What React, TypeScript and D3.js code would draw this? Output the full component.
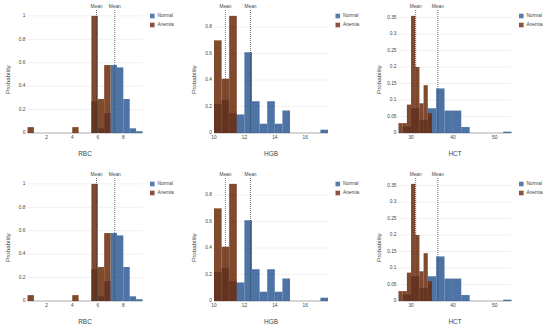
import React from 'react';
import * as d3 from 'd3';

// histogram bins: left edge of every bin + probability density
const rbcBinSize = 0.5;
const rbcNormalStarts = [5.5, 6.0, 6.5, 7.0, 7.5, 8.0, 8.5, 9.0];
const rbcNormalValues = [0.27, 0.04, 0.17, 0.58, 0.56, 0.29, 0.04, 0.015];
const rbcAnemiaStarts = [0.5, 4.0, 5.5, 6.0, 6.5];
const rbcAnemiaValues = [0.05, 0.05, 1.0, 0.29, 0.58];
const rbcMeans = [5.9, 7.33];
const rbcXTicks = [2, 4, 6, 8];
const rbcYTicks = [0, 0.2, 0.4, 0.6, 0.8, 1];

const hgbBinSize = 0.5;
const hgbNormalStarts = [10, 10.5, 11, 11.5, 12, 12.5, 13, 13.5, 14, 14.5, 17];
const hgbNormalValues = [0.22, 0.25, 0.15, 0.14, 0.61, 0.24, 0.07, 0.24, 0.07, 0.17, 0.025];
const hgbAnemiaStarts = [10, 10.5, 11];
const hgbAnemiaValues = [0.7, 0.41, 0.885];
const hgbMeans = [10.75, 12.4];
const hgbXTicks = [10, 12, 14, 16];
const hgbYTicks = [0, 0.2, 0.4, 0.6, 0.8];

const hctNormalBinSize = 2;
const hctAnemiaBinSize = 1;
const hctNormalStarts = [28, 30, 32, 34, 36, 38, 40, 42, 52];
const hctNormalValues = [0.02, 0.075, 0.04, 0.075, 0.135, 0.068, 0.068, 0.018, 0.004];
const hctAnemiaStarts = [27, 28, 29, 30, 31, 32, 33, 34];
const hctAnemiaValues = [0.03, 0.03, 0.086, 0.355, 0.2, 0.09, 0.145, 0.06];
const hctMeans = [31.1, 36.4];
const hctXTicks = [30, 40, 50];
const hctYTicks = [0, 0.05, 0.1, 0.15, 0.2, 0.25, 0.3, 0.35];

const seriesNames = ['Normal', 'Anemia'];

const panels = [
  {
    title: 'RBC', xDomain: [0.5, 9.5], xTicks: rbcXTicks, yTicks: rbcYTicks, means: rbcMeans,
    normal: { starts: rbcNormalStarts, values: rbcNormalValues, size: rbcBinSize },
    anemia: { starts: rbcAnemiaStarts, values: rbcAnemiaValues, size: rbcBinSize },
  },
  {
    title: 'HGB', xDomain: [10, 17.5], xTicks: hgbXTicks, yTicks: hgbYTicks, means: hgbMeans,
    normal: { starts: hgbNormalStarts, values: hgbNormalValues, size: hgbBinSize },
    anemia: { starts: hgbAnemiaStarts, values: hgbAnemiaValues, size: hgbBinSize },
  },
  {
    title: 'HCT', xDomain: [27, 54], xTicks: hctXTicks, yTicks: hctYTicks, means: hctMeans,
    normal: { starts: hctNormalStarts, values: hctNormalValues, size: hctNormalBinSize },
    anemia: { starts: hctAnemiaStarts, values: hctAnemiaValues, size: hctAnemiaBinSize },
  },
];

// layout (pixels)
const W = 550;
const H = 330;
const plotX = [[27.5, 142.5], [214, 328], [398.5, 511.5]];
const rowOffsets = [0, 168];
const plotTop = 10;
const plotBottom = 133;

const NORMAL = '#2e5c94';
const ANEMIA = '#6a2a0a';
const FONT = 'Liberation Sans, Arial, Helvetica, sans-serif';
const TEXT = '#444';

const fmt = (d: number) => String(+d.toFixed(2));

function Panel({ p, x0, x1, dy }: any) {
  const x = d3.scaleLinear().domain(p.xDomain).range([x0, x1]);
  const maxV = d3.max([...p.normal.values, ...p.anemia.values]) as number;
  const y = d3.scaleLinear().domain([0, maxV * 1.05]).range([plotBottom + dy, plotTop + dy]);
  const base = y(0);

  const bars = (s: any, color: string, op: number) =>
    s.starts.map((st: number, i: number) => (
      <rect key={i} x={x(st)} width={x(st + s.size) - x(st)} y={y(s.values[i])}
        height={base - y(s.values[i])} fill={color} fillOpacity={op} />
    ));

  return (
    <g fontFamily={FONT} fill={TEXT}>
      {p.yTicks.filter((t: number) => t > 0).map((t: number) => (
        <line key={t} x1={x0} x2={x1} y1={y(t)} y2={y(t)} stroke="#ececec" strokeWidth={0.8} />
      ))}
      <line x1={x0} x2={x1} y1={base} y2={base} stroke="#9a9a9a" strokeWidth={0.8} />
      {bars(p.normal, NORMAL, 0.85)}
      {bars(p.anemia, ANEMIA, 0.85)}
      {p.yTicks.map((t: number) => (
        <text key={t} x={x0 - 2} y={y(t)} fontSize={4.8} textAnchor="end" dominantBaseline="middle">{fmt(t)}</text>
      ))}
      {p.xTicks.map((t: number) => (
        <text key={t} x={x(t)} y={base + 6} fontSize={4.8} textAnchor="middle">{t}</text>
      ))}
      {p.means.map((m: number, i: number) => (
        <g key={i}>
          <line x1={x(m)} x2={x(m)} y1={plotTop + dy} y2={base} stroke="#333" strokeWidth={0.7} strokeDasharray="1,1" />
          <text x={x(m)} y={plotTop + dy - 1.8} fontSize={4.8} textAnchor="middle">Mean</text>
        </g>
      ))}
      <text x={(x0 + x1) / 2} y={base + 23} fontSize={6.4} textAnchor="middle">{p.title}</text>
      <text transform={`translate(${x0 - 18},${(plotTop + plotBottom) / 2 + dy + 8}) rotate(-90)`}
        fontSize={6.2} textAnchor="middle">Probability</text>
      {seriesNames.map((n, i) => (
        <g key={n} transform={`translate(${x1 + 7.5},${plotTop + dy + 6 + i * 9})`}>
          <rect x={0} y={-2.3} width={4.6} height={4.6} fill={i === 0 ? NORMAL : ANEMIA} fillOpacity={0.8} />
          <text x={7.5} y={0} fontSize={4.8} dominantBaseline="middle">{n}</text>
        </g>
      ))}
    </g>
  );
}

export default function App() {
  return (
    <svg width={W} height={H} style={{ position: 'absolute', left: 0, top: 0, background: '#fff' }}>
      {rowOffsets.map((dy) =>
        panels.map((p, i) => (
          <Panel key={`${dy}-${i}`} p={p} x0={plotX[i][0]} x1={plotX[i][1]} dy={dy} />
        ))
      )}
    </svg>
  );
}
